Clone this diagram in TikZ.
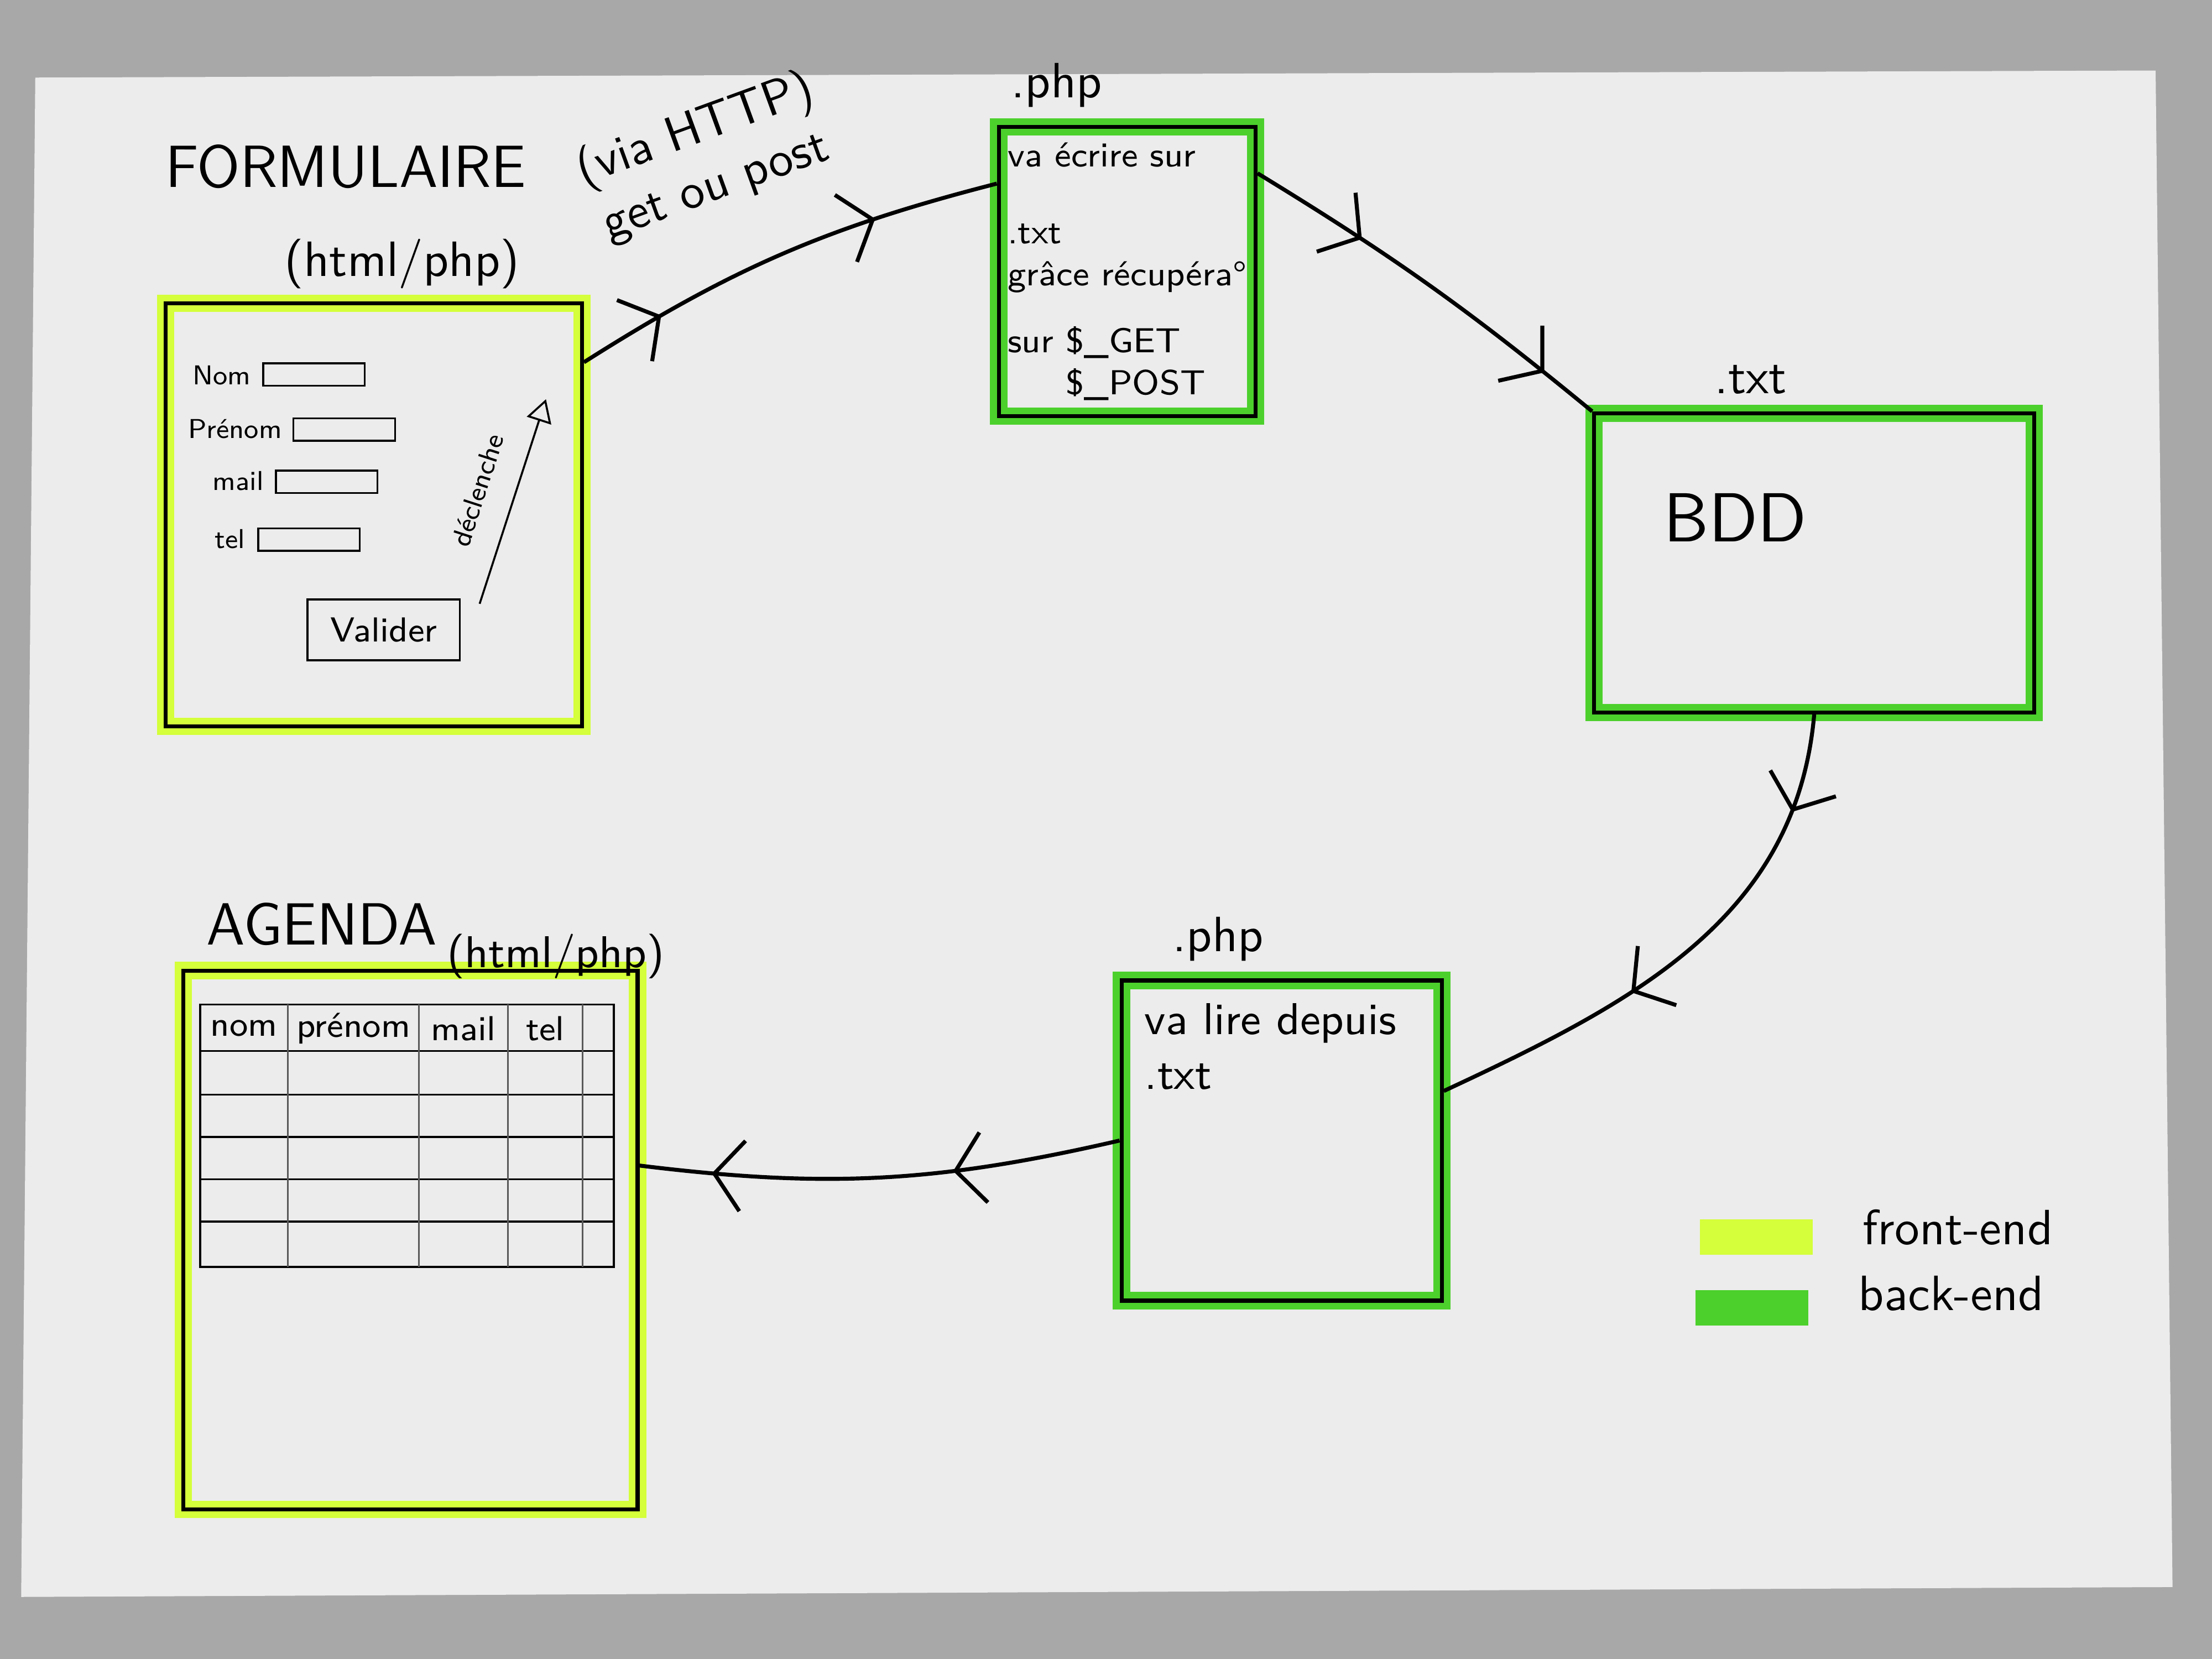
\documentclass[tikz,border=0pt]{standalone}
\usepackage{fontspec}
\usetikzlibrary{arrows.meta,decorations.markings}
\definecolor{frontcol}{HTML}{D4FF3A}
\definecolor{backcol}{HTML}{4CD02C}
\definecolor{papercol}{HTML}{ECECEC}
\definecolor{deskcol}{HTML}{A8A8A8}
\begin{document}
\begin{tikzpicture}[x=1cm, y=-1cm, font=\sffamily]
      \tikzset{frontbox/.style={draw=black, line width=0.8pt, preaction={draw=frontcol, line width=3.5pt}, inner sep=0pt},
               backbox/.style={draw=black, line width=0.8pt, preaction={draw=backcol, line width=3.5pt}, inner sep=0pt},
               titletxt/.style={font=\sffamily\fontsize{12}{14}\selectfont},
               notetxt/.style={font=\sffamily\fontsize{10}{12}\selectfont},
               fieldtxt/.style={font=\sffamily\fontsize{5.5}{6.5}\selectfont},
               fieldname/.style={fieldtxt, anchor=east, inner sep=1pt},
               field/.style={draw, thin, inner sep=0pt, minimum width=.72cm, minimum height=.16cm},
               flow/.style 2 args={decoration={markings,
                   mark=at position #1 with {\arrow{Straight Barb[length=2mm, width=5mm]}},
                   mark=at position #2 with {\arrow{Straight Barb[length=2mm, width=5mm]}}}, postaction={decorate}}}
%% Paper
      \fill[deskcol] (0,0) rectangle (15.68,11.76);
      \fill[papercol] (0.25,0.55) -- (15.28,0.50) -- (15.40,11.25) -- (0.15,11.32) -- cycle;
%% Boxes
      \node[frontbox, minimum width=2.95cm, minimum height=3.0cm] (form) at (2.65,3.65) {};
      \node[backbox, minimum width=1.82cm, minimum height=2.05cm, align=left, font=\sffamily\fontsize{7}{8.5}\selectfont,
            label={[xshift=-.5cm, notetxt]above:.php}] (ecrire) at (7.99,1.925)
            {va écrire sur\\[7pt] .txt\\ grâce récupéra°\\[5pt] sur \$\_GET\\ \hphantom{sur }\$\_POST};
      \node[backbox, minimum width=3.12cm, minimum height=2.12cm, label={[xshift=-.45cm, notetxt]above:.txt}] (bdd) at (12.86,3.99) {};
      \node[backbox, minimum width=2.27cm, minimum height=2.27cm, label={[xshift=-.45cm, notetxt]above:.php}] (lire) at (9.085,8.085) {};
      \node[frontbox, minimum width=3.22cm, minimum height=3.82cm] (agenda) at (2.91,8.79) {};
%% Titles and texts
      \node[titletxt] (formtitle) at (2.45,1.18) {FORMULAIRE};
      \node[notetxt] (formtech) at (2.85,1.87) {(html/php)};
      \node[titletxt] (agendatitle) at (2.28,6.55) {AGENDA};
      \node[font=\sffamily\fontsize{9}{11}\selectfont] (agendatech) at (3.94,6.78) {(html/php)};
      \node[font=\sffamily\fontsize{14}{16}\selectfont] (bddtxt) at (12.30,3.67) {BDD};
      \node[anchor=north west, align=left, font=\sffamily\fontsize{9}{11}\selectfont] (liretxt) at (7.99,6.99) {va lire depuis\\.txt};
      \node[notetxt, rotate=20, align=center] (http) at (5.00,1.12) {(via HTTP)\\get ou post};
%% Form fields
      \node[fieldname] (nom) at (1.82,2.66) {Nom};
      \node[field] (nombox) at (2.225,2.655) {};
      \node[fieldname] (prenom) at (2.04,3.04) {Prénom};
      \node[field] (prenombox) at (2.44,3.045) {};
      \node[fieldname] (mail) at (1.91,3.41) {mail};
      \node[field] (mailbox) at (2.315,3.415) {};
      \node[fieldname] (tel) at (1.78,3.82) {tel};
      \node[field] (telbox) at (2.19,3.825) {};
      \node[draw, thin, font=\sffamily\fontsize{7}{8}\selectfont, minimum width=1.08cm, minimum height=.43cm] (valider) at (2.72,4.465) {Valider};
      \coordinate (declstart) at (3.40,4.28);
      \coordinate (declend) at (3.87,2.83);
      \draw[thin, -{Triangle[open, length=1.6mm, width=1.8mm]}] (declstart) -- node[midway, above=2pt, sloped, fieldtxt] {déclenche} (declend);
%% Agenda table
      \draw[thin] (1.42,7.12) rectangle (4.35,8.98);
      \draw[thin] (1.42,7.45) -- (4.35,7.45) (1.42,7.76) -- (4.35,7.76) (1.42,8.06) -- (4.35,8.06)
                  (1.42,8.36) -- (4.35,8.36) (1.42,8.66) -- (4.35,8.66);
      \draw[thin, gray!70!black] (2.04,7.12) -- (2.04,8.98) (2.97,7.12) -- (2.97,8.98)
                  (3.60,7.12) -- (3.60,8.98) (4.13,7.12) -- (4.13,8.98);
      \node[font=\sffamily\fontsize{7}{8}\selectfont] (colnom) at (1.73,7.29) {nom};
      \node[font=\sffamily\fontsize{7}{8}\selectfont] (colprenom) at (2.505,7.29) {prénom};
      \node[font=\sffamily\fontsize{7}{8}\selectfont] (colmail) at (3.285,7.29) {mail};
      \node[font=\sffamily\fontsize{7}{8}\selectfont] (coltel) at (3.865,7.29) {tel};
%% Legend
      \node[fill=frontcol, minimum width=.8cm, minimum height=.25cm, inner sep=0pt] (frontkey) at (12.45,8.77) {};
      \node[notetxt, anchor=west] (fronttxt) at (13.08,8.70) {front-end};
      \node[fill=backcol, minimum width=.8cm, minimum height=.25cm, inner sep=0pt] (backkey) at (12.42,9.27) {};
      \node[notetxt, anchor=west] (backtxt) at (13.05,9.17) {back-end};
%Edges
      \path[thick] (form.36) edge [bend left=9, flow={0.2}{0.72}] (ecrire.146);
      \path[thick] (ecrire.37) edge [bend left=4, flow={0.3}{0.85}] (bdd.north west);
      \path[thick] (bdd.south) edge [out=265, in=25, flow={0.18}{0.62}] (lire.17);
      \path[thick] (lire.west) edge [bend left=10, flow={0.35}{0.85}] (agenda.18);
\end{tikzpicture}
\end{document}
